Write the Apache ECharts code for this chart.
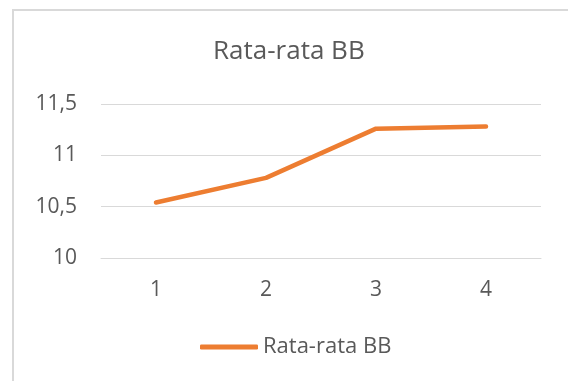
<!DOCTYPE html>
<html>
<head>
<meta charset="utf-8">
<script src="https://cdn.jsdelivr.net/npm/echarts@6/dist/echarts.min.js"></script>
<style>
  html, body { margin: 0; padding: 0; background: #fff; }
  #frame {
    position: absolute; left: 12px; top: 9px; right: 0; bottom: 0;
    border-left: 2px solid #d9d9d9; border-top: 2px solid #d9d9d9;
  }
  #chart { position: absolute; left: 0; top: 0; width: 568px; height: 381px; }
</style>
</head>
<body>
<div id="frame"></div>
<div id="chart"></div>
<script>
const categories = ['1', '2', '3', '4'];
const rataRataBB = [10.54, 10.78, 11.26, 11.28];
const yTicks = [10, 10.5, 11, 11.5];

const font = '"Open Sans", sans-serif';
const chart = echarts.init(document.getElementById('chart'));

chart.setOption({
  animation: false,
  title: {
    text: 'Rata-rata BB',
    left: 208,
    top: 34,
    textStyle: { color: '#595959', fontSize: 26, fontWeight: 'normal', fontFamily: font }
  },
  grid: { left: 101, right: 27, top: 104, bottom: 123 },
  legend: {
    left: 195,
    top: 331,
    icon: 'roundRect',
    itemWidth: 58,
    itemHeight: 5,
    itemGap: 6,
    textStyle: { color: '#595959', fontSize: 22, fontFamily: font },
    data: ['Rata-rata BB']
  },
  xAxis: {
    type: 'category',
    data: categories,
    boundaryGap: true,
    axisLine: { lineStyle: { color: '#d9d9d9', width: 1 } },
    axisTick: { show: false },
    axisLabel: { color: '#595959', fontSize: 21, fontFamily: font, margin: 22 }
  },
  yAxis: {
    type: 'value',
    min: yTicks[0],
    max: yTicks[yTicks.length - 1],
    interval: 0.5,
    axisLine: { show: false },
    axisTick: { show: false },
    splitLine: { lineStyle: { color: '#d9d9d9', width: 1 } },
    axisLabel: {
      color: '#595959', fontSize: 21, fontFamily: font, margin: 24,
      formatter: v => String(v).replace('.', ',')
    }
  },
  series: [{
    name: 'Rata-rata BB',
    type: 'line',
    data: rataRataBB,
    showSymbol: false,
    symbol: 'none',
    lineStyle: { color: '#ED7D31', width: 4.5, cap: 'round', join: 'round' },
    itemStyle: { color: '#ED7D31' }
  }]
});
</script>
</body>
</html>
